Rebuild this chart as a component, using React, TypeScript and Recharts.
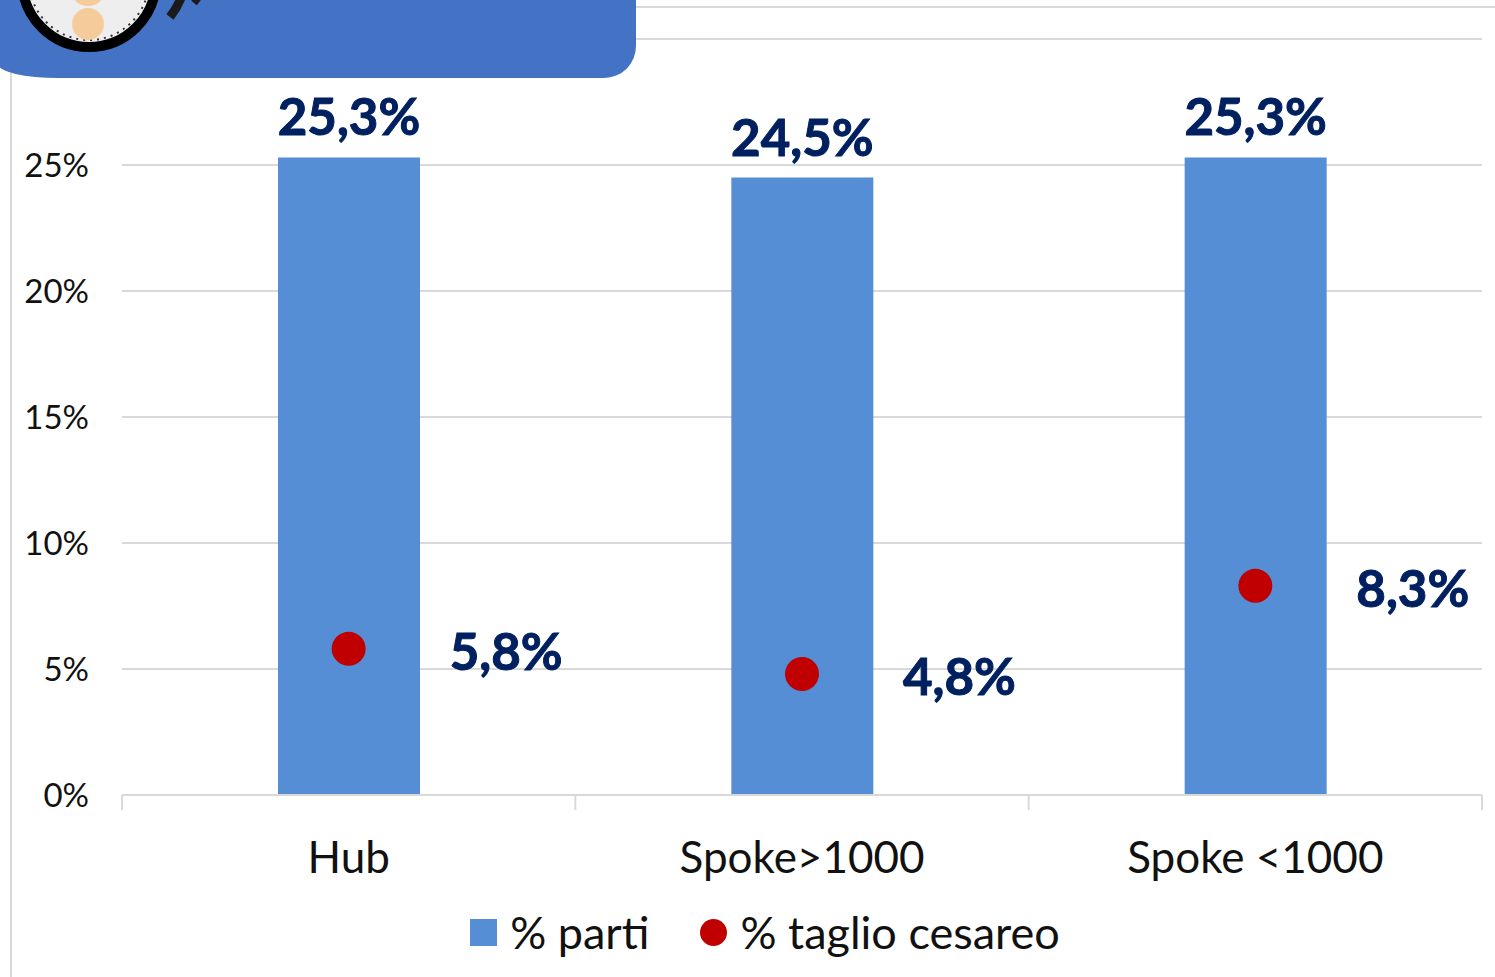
import { Bar, CartesianGrid, ComposedChart, LabelList, Legend, Line, XAxis, YAxis } from "recharts";

const categories = ["Hub", "Spoke>1000", "Spoke <1000"];
const partiValues = [25.3, 24.5, 25.3];
const cesareoValues = [5.8, 4.8, 8.3];
const yTicks = [0, 5, 10, 15, 20, 25, 30];

const tableData = categories.map((name, i) => ({
  name,
  parti: partiValues[i],
  cesareo: cesareoValues[i],
}));

const FONT = "Lato, 'Open Sans', sans-serif";
const LINE_GREY = "#D9D9D9";
const TEXT_BLACK = "#111111";
const LABEL_BLUE = "#002060";

const valueLabelStyle = {
  fontFamily: FONT,
  fontSize: 51,
  fontWeight: 700,
  fill: LABEL_BLUE,
  stroke: LABEL_BLUE,
  strokeWidth: 1,
};

const formatPercent = (value: number) => `${value.toFixed(1).replace(".", ",")}%`;

// Excel style: tick marks sit on the category boundaries, not on the labels
const CategoryTick = (props: any) => {
  const { x, y, payload, index } = props;
  const half = payload.offset ?? 0;
  return (
    <g>
      <line x1={x - half} x2={x - half} y1={y - 6} y2={y + 9} stroke={LINE_GREY} strokeWidth={2} />
      {index === categories.length - 1 && (
        <line x1={x + half} x2={x + half} y1={y - 6} y2={y + 9} stroke={LINE_GREY} strokeWidth={2} />
      )}
      <text x={x} y={y + 72} textAnchor="middle" fontFamily={FONT} fontSize={44} fill={TEXT_BLACK}>
        {payload.value}
      </text>
    </g>
  );
};

const Banner = () => (
  <div
    style={{
      position: "absolute",
      left: -2,
      top: -20,
      width: 638,
      height: 98,
      background: "#4472C4",
      borderRadius: "0 0 32px 60px / 0 0 32px 14px",
      overflow: "hidden",
    }}
  >
    <svg width={638} height={98} style={{ display: "block" }}>
      <g transform="translate(2,20)">
        <circle cx={89} cy={-20} r={67} fill="#EEEEEE" stroke="#000000" strokeWidth={10} />
        <circle cx={89} cy={-20} r={60} fill="none" stroke="#333333" strokeWidth={2} strokeDasharray="2 5" />
        <ellipse cx={88} cy={24} rx={16} ry={16} fill="#F5CB9B" />
        <ellipse cx={88} cy={-8} rx={16} ry={14} fill="#F5CB9B" />
        <path d="M 181 -2 Q 177 8 170 17" fill="none" stroke="#1A1A1A" strokeWidth={9} />
        <path d="M 198 -2 L 194 3" fill="none" stroke="#1A1A1A" strokeWidth={7} />
      </g>
    </svg>
  </div>
);

export default function App() {
  return (
    <div style={{ position: "absolute", left: 0, top: 0, width: 1495, height: 977, background: "#fff", overflow: "hidden" }}>
      <div
        style={{
          position: "absolute",
          left: 10,
          top: 6,
          width: 1500,
          height: 980,
          borderLeft: `2px solid ${LINE_GREY}`,
          borderTop: `2px solid ${LINE_GREY}`,
        }}
      />
      <ComposedChart
        width={1495}
        height={977}
        data={tableData}
        barCategoryGap={0}
        margin={{ top: 39, right: 13, bottom: 20, left: 0 }}
        style={{ position: "absolute", left: 0, top: 0 }}
      >
        <CartesianGrid vertical={false} stroke={LINE_GREY} strokeWidth={2} />
        <XAxis
          dataKey="name"
          height={112}
          axisLine={{ stroke: LINE_GREY, strokeWidth: 2 }}
          tickLine={false}
          tick={<CategoryTick />}
          interval={0}
          tickMargin={0}
        />
        <YAxis
          width={122}
          domain={[0, 30]}
          ticks={yTicks}
          axisLine={false}
          tickLine={false}
          tickMargin={27}
          tickFormatter={(v: number) => (v === 30 ? "" : `${v}%`)}
          tick={{ fontFamily: FONT, fontSize: 33, fill: TEXT_BLACK }}
        />
        <Legend
          iconSize={27}
          height={50}
          wrapperStyle={{ left: 29 }}
          formatter={(value: string, _entry: any, index: number) => (
            <span
              style={{
                fontFamily: FONT,
                fontSize: 45,
                lineHeight: "50px",
                color: TEXT_BLACK,
                verticalAlign: "middle",
                marginLeft: 9,
                marginRight: index === 0 ? 41 : 0,
              }}
            >
              {value}
            </span>
          )}
        />
        <Bar
          dataKey="parti"
          name="% parti"
          fill="#558ED5"
          barSize={142}
          legendType="square"
          isAnimationActive={false}
        >
          <LabelList dataKey="parti" position="top" offset={22} formatter={formatPercent} style={valueLabelStyle} />
        </Bar>
        <Line
          dataKey="cesareo"
          name="% taglio cesareo"
          stroke="#C00000"
          strokeWidth={0}
          legendType="circle"
          dot={{ r: 17, fill: "#C00000", stroke: "#C00000", strokeWidth: 0 }}
          activeDot={false}
          isAnimationActive={false}
        >
          <LabelList
            dataKey="cesareo"
            position="right"
            offset={101}
            dy={3}
            formatter={formatPercent}
            style={valueLabelStyle}
          />
        </Line>
      </ComposedChart>
      <Banner />
    </div>
  );
}
